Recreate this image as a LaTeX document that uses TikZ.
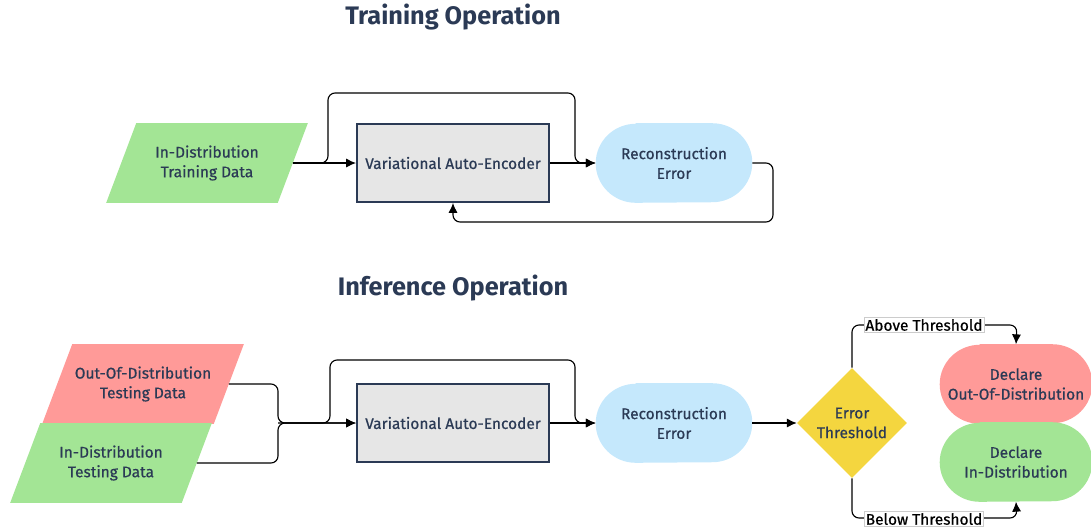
\documentclass[tikz,border=0pt]{standalone}
\usepackage{fontspec}
\setmainfont{Fira Sans}
\newfontfamily\boxfont{Fira Sans}[FakeBold=0.6]
\usetikzlibrary{calc, shapes.geometric, arrows.meta, backgrounds}

\begin{document}
\begin{tikzpicture}[x=0.025cm, y=-0.025cm,
    dataBox/.style={rectangle, minimum width=4.275cm, minimum height=1.975cm,
        inner sep=0pt, align=center, text=textColour, font=\boxfont\fontsize{11}{14}\selectfont},
    vaeBox/.style={rectangle, draw=textColour, line width=1.4pt, fill=vaeColour,
        minimum width=4.8cm, minimum height=1.95cm, align=center, text=textColour,
        font=\boxfont\fontsize{11}{14}\selectfont},
    pill/.style={rectangle, minimum width=3.9cm, minimum height=1.975cm, inner sep=0pt,
        align=center, text=textColour, font=\boxfont\fontsize{11}{14}\selectfont},
    flow/.style={-{Latex[length=7pt,width=6.5pt]}, line width=0.8pt, rounded corners=5pt},
    branchLabel/.style={fill=white, draw=gray!40, line width=0.4pt, inner sep=1pt,
        font=\boxfont\fontsize{11}{12}\selectfont},
    heading/.style={text=textColour, font=\fontsize{18}{20}\selectfont\bfseries}]

    % Define colours, the slant of the data boxes and the end radii of the pills
    \definecolor{textColour}{HTML}{2B3A55}
    \definecolor{trainColour}{HTML}{A3E595}
    \definecolor{oodColour}{HTML}{FF9A98}
    \definecolor{vaeColour}{HTML}{E6E6E6}
    \definecolor{errorColour}{HTML}{C5E8FC}
    \definecolor{thresholdColour}{HTML}{F4D63F}
    \def\slant{15}
    \def\endRx{1cm}
    \def\endRy{0.9875cm}

    % Fix the page size
    \useasboundingbox (0,0) rectangle (1091,529);

    % Training operation
    \node[heading] (trainTitle) at (453,17) {Training Operation};
    \node[dataBox] (trainData) at (207,163) {In-Distribution\\Training Data};
    \node[vaeBox] (trainVAE) at (453,163) {Variational Auto-Encoder};
    \node[pill] (trainRecon) at (674,163) {Reconstruction\\Error};

    % Draw training connectors
    \draw[flow] (trainData.east) -- (trainVAE.west);
    \draw[flow] (trainData.east) -| (328,93) -| (575,163) -- (trainRecon.west);
    \draw[flow] (trainVAE.east) -- (trainRecon.west);
    \draw[flow] (trainRecon.east) -| (773,222) -| (trainVAE.south);

    % Inference operation
    \node[heading] (infTitle) at (453,288) {Inference Operation};
    \node[dataBox] (oodData) at (143,384) {Out-Of-Distribution\\Testing Data};
    \node[dataBox] (idData) at (111,463) {In-Distribution\\Testing Data};
    \node[vaeBox] (infVAE) at (453,423) {Variational Auto-Encoder};
    \node[pill] (infRecon) at (674,423) {Reconstruction\\Error};
    \node[diamond, fill=thresholdColour, minimum width=2.75cm, minimum height=2.75cm,
        inner sep=0pt, align=center, text=textColour, font=\boxfont\fontsize{11}{14}\selectfont]
        (threshold) at (852,423) {Error\\Threshold};
    \node[pill, minimum width=3.8cm] (oodDecl) at (1016,384) {Declare\\Out-Of-Distribution};
    \node[pill, minimum width=3.8cm] (idDecl) at (1016,462) {Declare\\In-Distribution};

    % Draw the slanted data boxes and the pills behind their text
    \begin{scope}[on background layer]
        \foreach \dataNode/\colour in {trainData/trainColour, oodData/oodColour, idData/trainColour}
            \fill[\colour] ($(\dataNode.north west)+(\slant,0)$) -- ($(\dataNode.north east)+(\slant,0)$)
                -- ($(\dataNode.south east)+(-\slant,0)$) -- ($(\dataNode.south west)+(-\slant,0)$) -- cycle;
        \foreach \pillNode/\colour in {trainRecon/errorColour, infRecon/errorColour,
                oodDecl/oodColour, idDecl/trainColour}
            \fill[\colour] ($(\pillNode.north west)+(\endRx,0)$) -- ($(\pillNode.north east)+(-\endRx,0)$)
                arc[start angle=90, end angle=-90, x radius=\endRx, y radius=\endRy]
                -- ($(\pillNode.south west)+(\endRx,0)$)
                arc[start angle=270, end angle=90, x radius=\endRx, y radius=\endRy] -- cycle;
    \end{scope}

    % Draw inference connectors
    \coordinate (merge) at (278,423);
    \draw[flow] (oodData.east) -| (merge) -- (infVAE.west);
    \draw[flow] (idData.east) -| (merge) -- (infVAE.west);
    \draw[flow] (merge) -| (330,360) -| (575,423) -- (infRecon.west);
    \draw[flow] (infVAE.east) -- (infRecon.west);
    \draw[flow] (infRecon.east) -- (threshold.west);
    \draw[flow] (threshold.north) |- (1017,325) -- (oodDecl.north);
    \draw[flow] (threshold.south) |- (1017,518) -- (idDecl.south);

    % Label the threshold branches
    \node[branchLabel] (aboveLabel) at (924,325) {Above Threshold};
    \node[branchLabel] (belowLabel) at (924,519) {Below Threshold};

\end{tikzpicture}
\end{document}
